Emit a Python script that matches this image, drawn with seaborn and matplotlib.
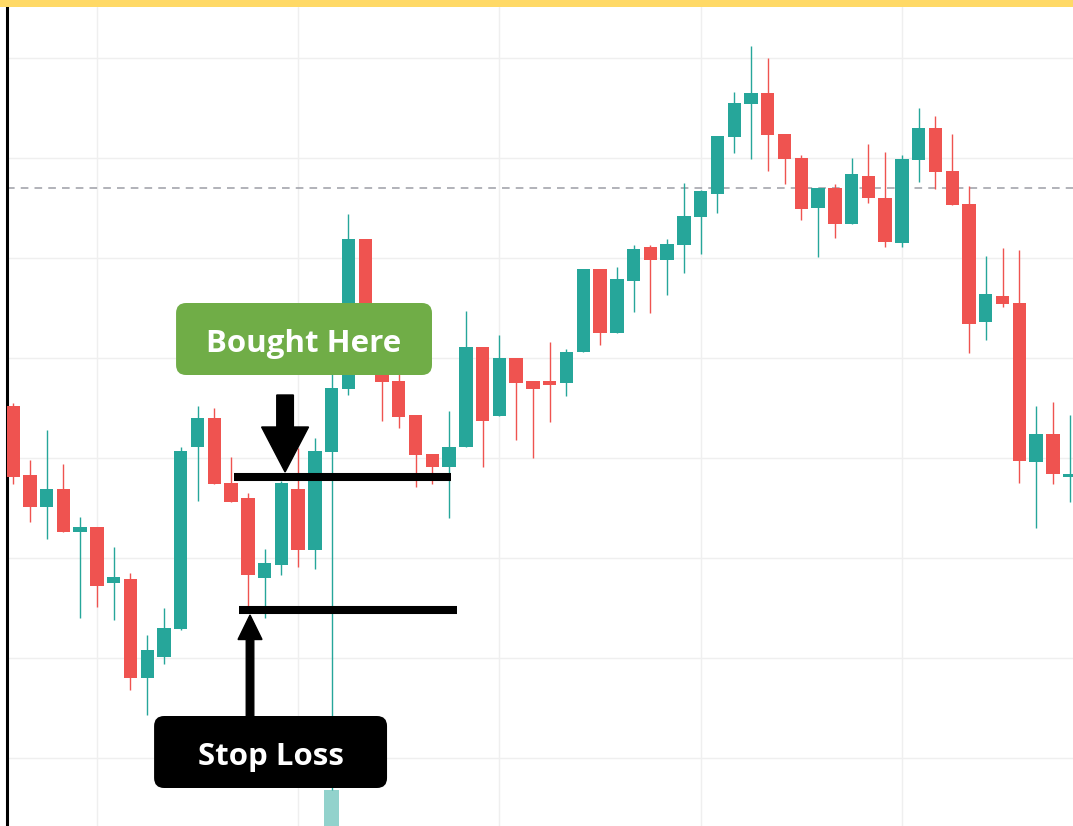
import numpy as np
import pandas as pd
import matplotlib
matplotlib.use("Agg")
import matplotlib.pyplot as plt
import seaborn as sns
from matplotlib.patches import FancyBboxPatch, Rectangle

# candle data (one row per session)
opens = [45.2, 38.3, 35.1, 36.9, 32.6, 33.1, 27.5, 27.9, 18.0, 20.1,
         22.9, 41.1, 44.0, 37.5, 36.0, 28.0, 29.3, 36.9, 30.8, 40.6,
         46.9, 61.9, 50.8, 47.7, 44.3, 40.4, 39.1, 41.1, 51.1, 44.2,
         50.0, 47.7, 47.7, 47.5, 50.6, 58.9, 52.5, 57.7, 61.1, 59.8,
         61.3, 64.1, 66.4, 72.1, 75.4, 76.5, 72.4, 70.0, 65.0, 67.0,
         63.4, 68.2, 66.0, 61.5, 69.8, 73.0, 68.7, 65.4, 53.6, 56.2,
         55.5, 39.6, 42.4, 38.1]
highs = [45.5, 39.8, 42.8, 39.4, 34.1, 33.1, 31.1, 28.5, 22.3, 25.0,
         41.1, 45.2, 45.0, 40.1, 36.5, 30.9, 37.7, 41.0, 42.0, 48.6,
         64.4, 61.9, 51.8, 48.6, 44.3, 40.4, 44.7, 54.7, 51.1, 52.3,
         50.0, 47.7, 51.6, 50.9, 58.9, 58.9, 59.1, 61.3, 61.3, 61.9,
         67.5, 66.8, 72.2, 76.6, 81.2, 80.0, 72.4, 70.3, 67.0, 67.4,
         70.0, 71.4, 70.6, 70.3, 75.0, 74.2, 72.4, 67.2, 60.2, 61.0,
         60.8, 45.2, 45.6, 44.3]
lows = [37.4, 33.6, 31.9, 32.6, 24.0, 25.1, 23.8, 16.8, 14.3, 19.4,
        22.8, 35.7, 37.4, 35.6, 25.2, 24.0, 28.3, 29.1, 28.9, 6.8,
        46.3, 50.6, 43.7, 43.0, 37.1, 37.4, 34.0, 41.1, 39.1, 44.2,
        41.8, 40.0, 43.6, 46.2, 50.6, 51.3, 52.5, 54.6, 54.5, 56.3,
        58.5, 60.4, 64.5, 70.5, 69.9, 68.7, 67.4, 63.8, 60.1, 62.0,
        63.4, 65.5, 61.1, 61.1, 67.6, 66.9, 65.3, 50.5, 51.8, 55.1,
        37.5, 33.0, 37.4, 35.6]
closes = [38.1, 35.1, 36.9, 32.6, 33.1, 27.2, 28.1, 18.0, 20.8, 23.0,
          40.7, 44.0, 37.4, 35.6, 28.3, 29.5, 37.5, 30.8, 40.7, 47.0,
          61.9, 51.3, 47.6, 44.1, 40.3, 39.1, 41.1, 51.1, 43.7, 50.0,
          47.5, 46.9, 47.3, 50.6, 58.9, 52.5, 57.9, 60.9, 59.8, 61.4,
          64.2, 66.7, 72.2, 75.5, 76.5, 72.3, 69.9, 64.9, 67.0, 63.4,
          68.4, 66.0, 61.6, 69.9, 73.0, 68.6, 65.3, 53.4, 56.4, 55.4,
          39.7, 42.4, 38.4, 38.4]

# the one volume bar that shows at the bottom
vol_idx = 19
vol_top = 6.8

ref_price = 67.0      # dashed reference line
entry_price = 38.1    # "Bought Here"
stop_price = 24.8     # "Stop Loss"

df = pd.DataFrame({"open": opens, "high": highs, "low": lows, "close": closes})
df["x"] = np.arange(len(df))
df["up"] = df["close"] >= df["open"]

green = "#26a69a"
red = "#ef5350"

sns.set_theme(style="white")
plt.rcParams["font.family"] = ["Open Sans", "DejaVu Sans"]

fig = plt.figure(figsize=(10.73, 8.26), dpi=100)
ax = fig.add_axes([7 / 1073, 0, 1066 / 1073, 819 / 826])
fig.patches.append(Rectangle((0, 819 / 826), 1, 7 / 826, transform=fig.transFigure,
                             facecolor="#ffd966", edgecolor="none", zorder=5))

ax.set_xlim(-0.36, 63.2)
ax.set_ylim(3.2, 85.1)

for v in range(10, 90, 10):
    ax.axhline(v, color="#efefef", lw=1, zorder=0)
for v in [5, 17, 29, 41, 53]:
    ax.axvline(v, color="#efefef", lw=1, zorder=0)

ax.axhline(ref_price, color="#9c9ea6", lw=1.1, dashes=(5, 4), zorder=1)

colors = np.where(df["up"], green, red)
ax.vlines(df["x"], df["low"], df["high"], colors=colors, lw=1.0, zorder=2)
body_lo = np.minimum(df["open"], df["close"])
body_h = np.maximum(np.abs(df["close"] - df["open"]), 0.25)
ax.bar(df["x"], body_h, bottom=body_lo, width=0.8, color=colors, edgecolor="none", zorder=3)

ax.bar([vol_idx], [vol_top - 3.2], bottom=3.2, width=0.9, color=green, alpha=0.5,
       edgecolor="none", zorder=2)

# entry / stop lines
ax.plot([13.18, 26.1], [entry_price, entry_price], color="black", lw=5.8,
        solid_capstyle="butt", zorder=5)
ax.plot([13.48, 26.46], [stop_price, stop_price], color="black", lw=5.8,
        solid_capstyle="butt", zorder=5)

# arrows
ax.arrow(16.22, 46.3, 0, 38.6 - 46.3, width=0.99, head_width=2.8, head_length=4.5,
         length_includes_head=True, color="black", zorder=6)
ax.arrow(14.13, 14.2, 0, 24.3 - 14.2, width=0.45, head_width=1.43, head_length=2.45,
         length_includes_head=True, color="black", zorder=6)

# labels
aspect = 16.77 / 10
ax.add_patch(FancyBboxPatch((9.72, 48.3), 15.26, 7.2,
                            boxstyle="round,pad=0,rounding_size=0.6",
                            mutation_aspect=aspect, facecolor="#70ad47",
                            edgecolor="none", zorder=7))
ax.text(17.35, 50.6, "Bought Here", color="white", fontsize=22.5, fontweight="bold",
        ha="center", va="baseline", zorder=8)

ax.add_patch(FancyBboxPatch((8.41, 7.0), 13.89, 7.2,
                            boxstyle="round,pad=0,rounding_size=0.6",
                            mutation_aspect=aspect, facecolor="black",
                            edgecolor="none", zorder=7))
ax.text(15.38, 9.3, "Stop Loss", color="white", fontsize=22.5, fontweight="bold",
        ha="center", va="baseline", zorder=8)

for s in ["top", "right", "bottom"]:
    ax.spines[s].set_visible(False)
ax.spines["left"].set_color("black")
ax.spines["left"].set_linewidth(2.2)
ax.set_xticks([])
ax.set_yticks([])

fig.savefig("out.png", dpi=100)
